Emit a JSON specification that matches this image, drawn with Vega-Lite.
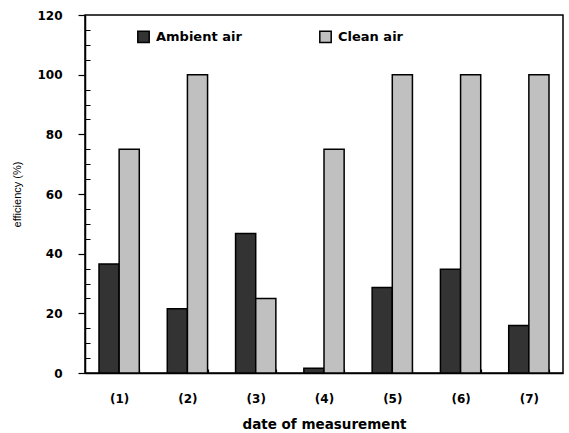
{
  "$schema": "https://vega.github.io/schema/vega-lite/v6.json",
  "width": 478,
  "height": 358,
  "autosize": {"type": "none"},
  "padding": {"left": 85, "top": 15, "right": 6, "bottom": 60},
  "background": "white",
  "config": {
    "font": "DejaVu Sans",
    "view": {"stroke": "black", "strokeWidth": 1.5},
    "axis": {"grid": false, "domainColor": "black", "tickColor": "black", "domainWidth": 1.5, "tickWidth": 1.2, "labelColor": "black", "titleColor": "black"}
  },
  "data": {
    "values": [
      {"date": "(1)", "type": "Ambient air", "eff": 36.5},
      {"date": "(1)", "type": "Clean air", "eff": 75},
      {"date": "(2)", "type": "Ambient air", "eff": 21.5},
      {"date": "(2)", "type": "Clean air", "eff": 100},
      {"date": "(3)", "type": "Ambient air", "eff": 46.8},
      {"date": "(3)", "type": "Clean air", "eff": 25},
      {"date": "(4)", "type": "Ambient air", "eff": 1.6},
      {"date": "(4)", "type": "Clean air", "eff": 75},
      {"date": "(5)", "type": "Ambient air", "eff": 28.7},
      {"date": "(5)", "type": "Clean air", "eff": 100},
      {"date": "(6)", "type": "Ambient air", "eff": 34.8},
      {"date": "(6)", "type": "Clean air", "eff": 100},
      {"date": "(7)", "type": "Ambient air", "eff": 15.9},
      {"date": "(7)", "type": "Clean air", "eff": 100}
    ]
  },
  "layer": [
    {
      "mark": {"type": "bar", "stroke": "black", "strokeWidth": 1.5},
      "encoding": {
        "x": {
          "field": "date", "type": "nominal", "sort": null,
          "scale": {"paddingInner": 0.41, "paddingOuter": 0.205},
          "axis": {
            "title": "date of measurement", "labelAngle": 0,
            "labelFont": "DejaVu Sans", "labelFontWeight": "bold", "labelFontSize": 12,
            "labelPadding": 24, "tickBand": "extent", "tickSize": -4,
            "titleFont": "DejaVu Sans", "titleFontWeight": "bold", "titleFontSize": 13.5, "titlePadding": 13,
            "titleColor": "black"
          }
        },
        "xOffset": {"field": "type", "type": "nominal", "scale": {"paddingInner": 0, "paddingOuter": 0}},
        "y": {
          "field": "eff", "type": "quantitative",
          "scale": {"domain": [0, 120], "nice": false},
          "axis": {
            "title": "efficiency (%)", "values": [0, 20, 40, 60, 80, 100, 120],
            "tickSize": 7, "labelPadding": 16,
            "labelFont": "DejaVu Sans", "labelFontWeight": "bold", "labelFontSize": 12,
            "titleFont": "Liberation Sans", "titleFontWeight": "normal", "titleFontSize": 11, "titlePadding": 14,
            "titleColor": "#000000"
          }
        },
        "fill": {
          "field": "type", "type": "nominal",
          "scale": {"domain": ["Ambient air", "Clean air"], "range": ["#333333", "#c0c0c0"]},
          "legend": {
            "title": null, "orient": "none", "legendX": 52, "legendY": 15, "direction": "horizontal",
            "symbolType": "square", "symbolSize": 130, "symbolStrokeColor": "black", "symbolStrokeWidth": 1.5,
            "labelFont": "DejaVu Sans", "labelFontWeight": "bold", "labelFontSize": 13, "labelColor": "black",
            "columnPadding": 74, "labelOffset": 6
          }
        }
      }
    },
    {
      "mark": {"type": "tick", "opacity": 0},
      "encoding": {
        "y": {
          "field": "eff", "type": "quantitative",
          "axis": {
            "orient": "left", "title": null, "labels": false, "domain": false, "tickSize": -5, "tickWidth": 1,
            "values": [5, 10, 15, 25, 30, 35, 45, 50, 55, 65, 70, 75, 85, 90, 95, 105, 110, 115]
          }
        }
      }
    }
  ],
  "resolve": {"axis": {"y": "independent"}}
}
